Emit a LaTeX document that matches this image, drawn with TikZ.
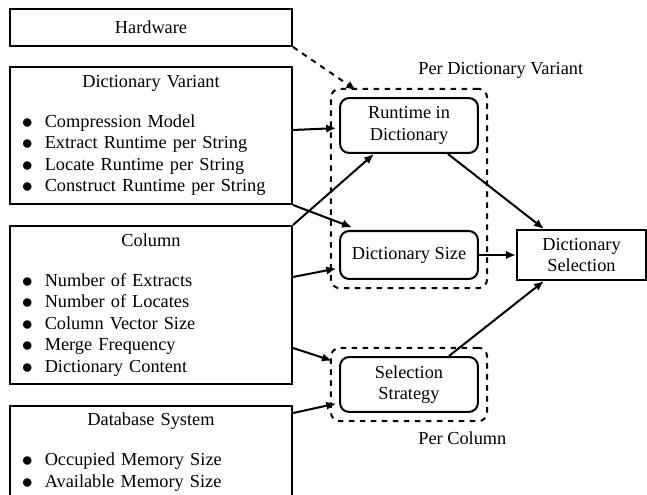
\documentclass[tikz,border=0pt]{standalone}
\usepackage{fontspec}
\setmainfont{Liberation Serif}
\usetikzlibrary{arrows.meta, calc, fit}

\newcommand{\bitem}[1]{\hspace*{6.5pt}\makebox[12.5pt][l]{\smash{\raisebox{-0.5pt}{\large$\bullet$}}}#1}

\tikzset{
  infobox/.style={draw, line width=1.1pt, inner xsep=0pt, text width=154pt, minimum width=154pt, align=left},
  stepbox/.style={draw, line width=1.1pt, rounded corners=5pt, align=center, minimum width=75.3pt},
  groupbox/.style={draw, dashed, line width=1.1pt, rounded corners=5pt, inner sep=4.5pt},
  link/.style={-{Latex[length=5.5pt, width=4.6pt]}, line width=1.1pt},
}

\begin{document}
\begin{tikzpicture}[x=0.546pt, y=-0.546pt, font=\fontsize{10}{11.8}\selectfont]

  \useasboundingbox (0,0) rectangle (647,495);

  % inputs on the left
  \node[infobox, align=center, minimum height=20.2pt] (hw) at (151,27.5) {Hardware};
  \node[infobox, minimum height=74.8pt] (variant) at (151,135.5) {%
    \makebox[154pt]{Dictionary Variant}\\[10pt]
    \bitem{Compression Model}\\
    \bitem{Extract Runtime per String}\\
    \bitem{Locate Runtime per String}\\
    \bitem{Construct Runtime per String}};
  \node[infobox, minimum height=86.3pt] (column) at (151,305) {%
    \makebox[154pt]{Column}\\[10pt]
    \bitem{Number of Extracts}\\
    \bitem{Number of Locates}\\
    \bitem{Column Vector Size}\\
    \bitem{Merge Frequency}\\
    \bitem{Dictionary Content}};
  \node[infobox, minimum height=50.2pt] (database) at (151,452) {%
    \makebox[154pt]{Database System}\\[10pt]
    \bitem{Occupied Memory Size}\\
    \bitem{Available Memory Size}};

  % estimates and selection
  \node[stepbox, minimum height=30pt] (runtime) at (409,125.5) {Runtime in\\Dictionary};
  \node[stepbox, minimum height=26.2pt] (dsize) at (409,255) {Dictionary Size};
  \node[stepbox, minimum height=30pt] (strategy) at (409,384.5) {Selection\\Strategy};
  \node[draw, line width=1.1pt, align=center, minimum width=70.4pt, minimum height=27.3pt] (selection) at (581.5,255) {Dictionary\\Selection};

  \node[groupbox, fit=(runtime)(dsize)] (pervariant) {};
  \node[groupbox, fit=(strategy)] (percolumn) {};
  \node[anchor=west, inner sep=0pt] (lblvariant) at (418,70) {Per Dictionary Variant};
  \node[anchor=west, inner sep=0pt] (lblcolumn) at (418,438) {Per Column};

  % connectors
  \draw[link, dashed, shorten >=6.5pt] (hw.south east) -- ($(runtime.north west)+(27,0)$);
  \draw[link, shorten >=1.5pt] ($(variant.east)+(0,-5.5)$) -- ($(runtime.west)+(0,2.5)$);
  \draw[link, shorten >=4pt] (variant.south east) -- ($(dsize.north west)+(20,0)$);
  \draw[link] (column.north east) -- ($(runtime.south west)!0.5!(runtime.south)$);
  \draw[link, shorten >=1.5pt] ($(column.east)+(0,-28)$) -- ($(dsize.west)+(0,13)$);
  \draw[link, shorten >=4pt] ($(column.east)+(0,43)$) -- ($(strategy.north west)+(0,7)$);
  \draw[link, shorten >=1.5pt] ($(database.north east)+(0,8)$) -- ($(strategy.south west)+(0,-10)$);
  \draw[link] ($(runtime.south east)+(-31,0)$) -- ($(selection.north west)+(28,0)$);
  \draw[link] (dsize.east) -- (selection.west);
  \draw[link] ($(strategy.north east)+(-30,0)$) -- ($(selection.south west)+(28,0)$);

\end{tikzpicture}
\end{document}
